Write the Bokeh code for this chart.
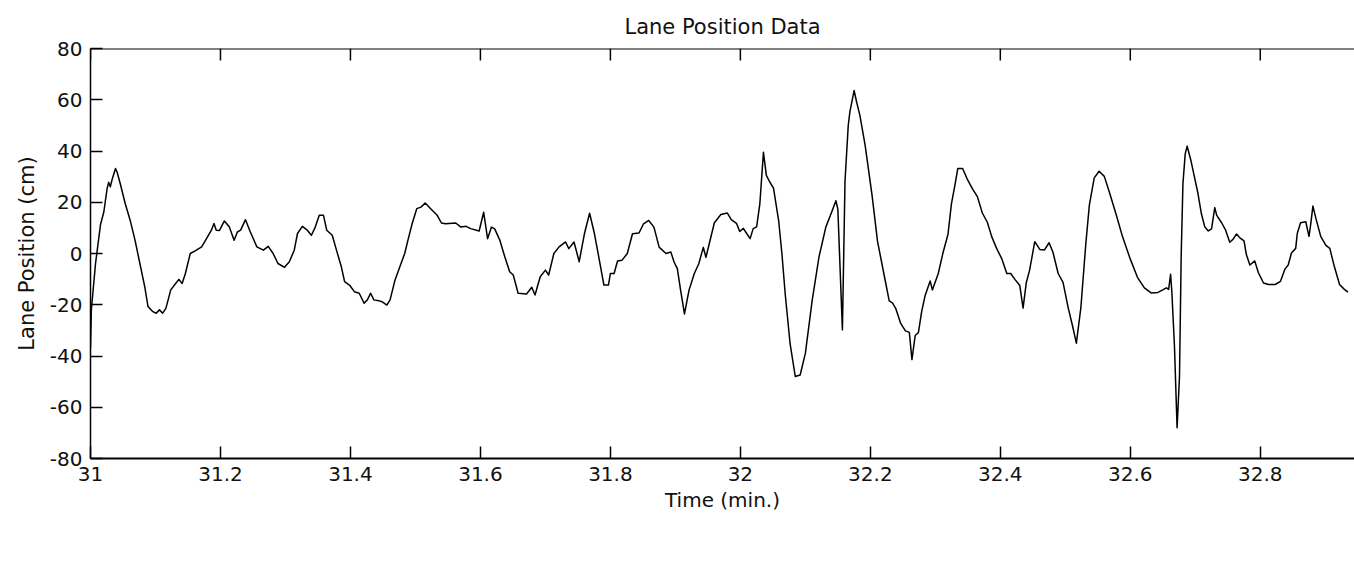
import math
from bokeh.plotting import figure
from bokeh.models import LinearAxis, FixedTicker, Range1d, Span
from bokeh.embed import file_html
from bokeh.resources import INLINE

# ---- data ----
time_min = [
    31.000, 31.0013, 31.0077, 31.0154, 31.0205, 31.0256, 31.028, 31.0305, 31.0335, 31.0385,
    31.041, 31.046, 31.0535, 31.061, 31.0685, 31.076, 31.0835, 31.0885, 31.096, 31.101,
    31.106, 31.111, 31.116, 31.1235, 31.131, 31.136, 31.141, 31.146, 31.1535, 31.161,
    31.171, 31.1785, 31.186, 31.19, 31.1935, 31.1985, 31.206, 31.2135, 31.221, 31.226,
    31.231, 31.2385, 31.246, 31.256, 31.266, 31.2735, 31.281, 31.2885, 31.2985, 31.306,
    31.3135, 31.3185, 31.326, 31.3335, 31.34, 31.346, 31.352, 31.3585, 31.3635, 31.372,
    31.3785, 31.386, 31.391, 31.3985, 31.406, 31.4135, 31.421, 31.426, 31.431, 31.436,
    31.4435, 31.4485, 31.456, 31.461, 31.4685, 31.476, 31.4835, 31.4885, 31.495, 31.502,
    31.5085, 31.515, 31.5235, 31.5335, 31.54,
    31.5464, 31.562, 31.570, 31.578, 31.585, 31.598, 31.605, 31.611, 31.617, 31.622,
    31.630, 31.6375, 31.645, 31.6505, 31.658, 31.671, 31.679, 31.684, 31.692, 31.700,
    31.705, 31.713, 31.721, 31.731, 31.736, 31.744, 31.752, 31.760, 31.768, 31.7755,
    31.783, 31.790, 31.797, 31.800, 31.8057, 31.811, 31.818, 31.826, 31.834, 31.844,
    31.851, 31.859, 31.867, 31.875, 31.8855, 31.893, 31.898, 31.903, 31.908, 31.914,
    31.921, 31.929, 31.936, 31.943, 31.947, 31.952, 31.960, 31.970, 31.980, 31.986,
    31.994, 31.999, 32.0046, 32.0097, 32.015, 32.0197, 32.025, 32.030, 32.0355, 32.040,
    32.045, 32.051, 32.059, 32.064, 32.069, 32.0765, 32.0845, 32.092, 32.100, 32.1105,
    32.121, 32.1315, 32.1395, 32.147, 32.150, 32.157, 32.161, 32.166, 32.1685, 32.175,
    32.179, 32.184, 32.192, 32.2026, 32.211,
    32.224, 32.229, 32.234, 32.239, 32.2467, 32.254, 32.260, 32.264, 32.269, 32.274,
    32.279, 32.284,
    32.292, 32.2955, 32.3045, 32.312, 32.3195, 32.3247, 32.3307, 32.3346, 32.342, 32.3497,
    32.3572, 32.3647, 32.3723, 32.380, 32.387, 32.395, 32.402, 32.410, 32.416, 32.4224,
    32.430, 32.435, 32.440, 32.445, 32.453, 32.4607, 32.468, 32.475, 32.481, 32.489,
    32.4965,
    32.5043, 32.511, 32.517, 32.524, 32.5315, 32.537, 32.5445, 32.552, 32.560, 32.5675,
    32.578, 32.588, 32.600, 32.611, 32.6217, 32.632, 32.6425, 32.650, 32.6555, 32.659,
    32.662, 32.664, 32.668, 32.672, 32.6757, 32.6783, 32.681, 32.6845, 32.6875, 32.693,
    32.699, 32.704, 32.7095, 32.7146,
    32.720, 32.725, 32.730, 32.733, 32.7405, 32.7467, 32.753, 32.758, 32.7635, 32.7686,
    32.775, 32.7786, 32.784, 32.7915, 32.797, 32.805, 32.8127, 32.823, 32.831, 32.8377,
    32.843, 32.848, 32.8545, 32.857, 32.862, 32.870, 32.875, 32.8776, 32.881, 32.8855,
    32.893, 32.901, 32.907, 32.914, 32.922, 32.929, 32.935,
]

lane_position_cm = [
    -37, -22, -4, 11.3, 16.2, 25.4, 27.8, 26, 29.1, 33.2,
    31.7, 27, 19.4, 13, 5.2, -3.9, -13, -20.7, -22.7, -23.3,
    -22, -23.3, -21.4, -14.2, -11.7, -10.1, -11.7, -7.8, 0, 1,
    2.6, 5.8, 9.1, 11.7, 9.1, 9, 12.7, 10.4, 5.2, 8.4,
    9.1, 13.2, 8.4, 2.6, 1.3, 2.8, 0, -3.9, -5.4, -3.2,
    1.3, 7.8, 10.6, 9.1, 7.1, 10.4, 14.9, 14.9, 9.1, 7.1,
    1.3, -5.2, -11, -12.3, -14.9, -15.5, -19.4, -18.1, -15.5, -18.1,
    -18.4, -18.8, -20.1, -18.1, -10.4, -5.2, 0, 5.2, 11.7, 17.5,
    18.1, 19.7, 17.5, 14.9, 11.9,
    11.6, 11.9, 10.3, 10.6, 9.7, 8.8, 16.1, 5.8, 10.3, 9.6,
    5.1, -1.3, -7.1, -8.4, -15.5, -15.8, -13.2, -16.2, -9.1, -6.5,
    -8.4, 0, 2.6, 4.5, 1.9, 4.5, -3.2, 7.7, 15.7, 7.7,
    -2.6, -12.3, -12.3, -7.8, -7.8, -2.9, -2.6, 0, 7.7, 8,
    11.6, 12.9, 10.3, 2.5, 0, 0.6, -3.3, -5.9, -14.3, -23.6,
    -14.3, -7.9, -4, 2.4, -1.5, 3.7, 12, 15.2, 15.8, 13.2,
    11.8, 8.6, 9.8, 7.8, 5.8, 9.7, 10.4, 19.5, 39.5, 30.5,
    28, 25.5, 12.6, -0.3, -15.8, -35.2, -48, -47.4, -39, -18.3,
    -1.3, 10.3, 15.5, 20.6, 17.3, -29.8, 28.2, 50, 55.3, 63.6,
    59, 53.8, 42.2, 22.8, 4.8,
    -12, -18.5, -19.3, -21.4, -27.3, -30.2, -30.8, -41.4, -32, -30.8,
    -22.6, -16.7,
    -10.7, -14.2, -7.8, 0.5, 7.5, 19.3, 27.5, 33.2, 33.2, 28.7,
    25.2, 22.2, 15.8, 12.2, 6.4, 1.6, -1.9, -7.8, -7.8, -10.1,
    -12.5, -21.3, -11.3, -6.6, 4.6, 1.6, 1.4, 4.2, 0.5, -7.8,
    -11.3,
    -21, -28.1, -35, -21, 3.6, 18.9, 29.5, 32.1, 30.1, 24.2,
    15.4, 6.6, -2.2, -9.3, -13.4, -15.4, -15.2, -14.2, -13.4, -14,
    -8.1, -15.2, -36.4, -68, -48, -1, 27.2, 38.9, 41.9, 36.6,
    29.5, 23.6, 15.4, 10.4,
    8.8, 9.6, 17.9, 14.9, 12, 9.1, 4.4, 5.5, 7.6, 6.1,
    4.9, -0.4, -4.5, -2.9, -7.4, -11.5, -12.1, -12.1, -10.9, -6.2,
    -4.5, 0.2, 2, 7.9, 12, 12.4, 6.7, 11.4, 18.5, 13.8,
    6.7, 3.2, 2, -5.1, -12.1, -13.9, -15.1,
]

x_ticks = [31.0, 31.2, 31.4, 31.6, 31.8, 32.0, 32.2, 32.4, 32.6, 32.8]
x_tick_labels = ["31", "31.2", "31.4", "31.6", "31.8", "32", "32.2", "32.4", "32.6", "32.8"]
y_ticks = [-80, -60, -40, -20, 0, 20, 40, 60, 80]
y_tick_labels = ["-80", "-60", "-40", "-20", "0", "20", "40", "60", "80"]
y_top = 80

FONT = "DejaVu Sans"

p = figure(width=1354, height=572, output_backend="svg", toolbar_location=None,
           x_range=Range1d(31.0, 32.945), y_range=Range1d(-80, 80),
           x_axis_location=None, y_axis_location=None,
           min_border_left=90, min_border_right=0, min_border_top=48, min_border_bottom=114,
           background_fill_color="white", border_fill_color="white")
p.outline_line_color = None
p.grid.visible = False

p.title.text = "Lane Position Data"
p.title.align = "center"
p.title.offset = 16
p.title.standoff = 20
p.title.text_font = FONT
p.title.text_font_size = "21px"
p.title.text_font_style = "normal"
p.title.text_color = "#111111"


def style_axis(ax, width):
    ax.axis_line_color = "black"
    ax.axis_line_width = width
    ax.major_tick_line_color = "black"
    ax.major_tick_line_width = 1.5
    ax.major_tick_in = 12
    ax.major_tick_out = 0
    ax.minor_tick_line_color = None
    ax.major_label_text_font = FONT
    ax.major_label_text_font_size = "20px"
    ax.major_label_text_color = "#111111"
    ax.axis_label_text_font = FONT
    ax.axis_label_text_font_size = "20px"
    ax.axis_label_text_font_style = "normal"
    ax.axis_label_text_color = "#111111"


xb = LinearAxis(ticker=FixedTicker(ticks=x_ticks),
                major_label_overrides=dict(zip(x_ticks, x_tick_labels)),
                axis_label="Time (min.)")
style_axis(xb, 2)
xb.major_label_standoff = 8
xb.axis_label_standoff = 4
p.add_layout(xb, "below")

yl = LinearAxis(ticker=FixedTicker(ticks=y_ticks),
                major_label_overrides=dict(zip(y_ticks, y_tick_labels)),
                axis_label="Lane Position (cm)")
style_axis(yl, 1.5)
yl.major_label_standoff = 8
yl.axis_label_standoff = 8
yl.axis_label_text_font_size = "21px"
p.add_layout(yl, "left")

# top box edge with inward ticks (no labels)
p.add_layout(Span(location=y_top, dimension="width", line_color="black", line_width=2))
p.ray(x=x_ticks, y=[y_top] * len(x_ticks), length=12, length_units="screen",
      angle=-math.pi / 2, line_color="black", line_width=1.5)

p.line(time_min, lane_position_cm, line_color="black", line_width=1.5, line_join="round")

open("out.html", "w").write(file_html(p, INLINE))
